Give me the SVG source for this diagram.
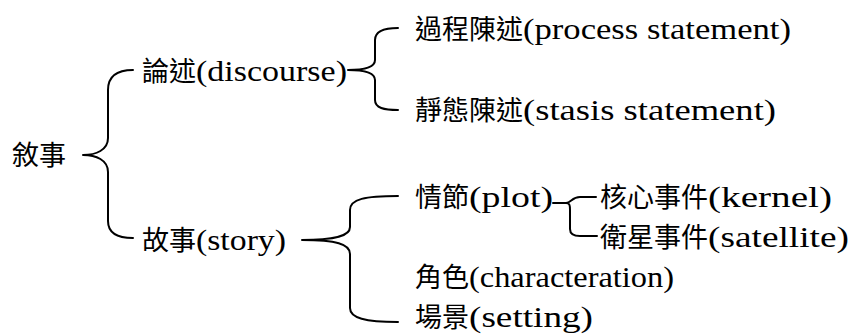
<svg xmlns="http://www.w3.org/2000/svg" width="852" height="336" viewBox="0 0 852 336">
  <style>
    text { font-family: "Noto Sans CJK TC", "Noto Sans CJK SC", sans-serif; font-size: 27px; fill: #000; }
    tspan { font-family: "Liberation Serif", "Times New Roman", serif; font-size: 29px; }
    .br { fill: none; stroke: #000; stroke-width: 2; stroke-linecap: round; stroke-linejoin: round; }
  </style>
  <rect width="852" height="336" fill="#fff"/>
  <g id="connectors">
    <path class="br" d="M133,70 C118,70 108,75 108,90 L108,138 C108,150 96,155 83,155 C96,155 108,160 108,172 L108,221 C108,233 118,238 133,238"/>
    <path class="br" d="M398,28 C384,28 375,31 375,40 L375,60 C375,67 366,70 348,70 C366,70 375,73 375,80 L375,100 C375,108 384,110 398,110"/>
    <path class="br" d="M398,196 C365,196 350,199 350,210 L350,227 C350,236 336,240 302,240 C336,240 350,244 350,254 L350,308 C350,318 365,322 398,322"/>
    <path class="br" d="M553,203 L566,203 C571,203 572,197 580,197 L596,197 M566,203 C570,203 570,206 570,210 L570,229 C570,234 574,236 580,236 L597,236"/>
  </g>
  <g id="n-narrative"><text x="12" y="165">敘事</text></g>
  <g id="n-discourse"><text x="142" y="81">論述<tspan textLength="151" lengthAdjust="spacingAndGlyphs">(discourse)</tspan></text></g>
  <g id="n-story"><text x="142" y="250">故事<tspan textLength="90" lengthAdjust="spacingAndGlyphs">(story)</tspan></text></g>
  <g id="n-process"><text x="415" y="39">過程陳述<tspan textLength="268" lengthAdjust="spacingAndGlyphs">(process statement)</tspan></text></g>
  <g id="n-stasis"><text x="415" y="120">靜態陳述<tspan textLength="253" lengthAdjust="spacingAndGlyphs">(stasis statement)</tspan></text></g>
  <g id="n-plot"><text x="415" y="207">情節<tspan textLength="84" lengthAdjust="spacingAndGlyphs">(plot)</tspan></text></g>
  <g id="n-kernel"><text x="600" y="207">核心事件<tspan textLength="124" lengthAdjust="spacingAndGlyphs">(kernel)</tspan></text></g>
  <g id="n-satellite"><text x="600" y="247">衛星事件<tspan textLength="141" lengthAdjust="spacingAndGlyphs">(satellite)</tspan></text></g>
  <g id="n-character"><text x="415" y="287">角色<tspan textLength="205" lengthAdjust="spacingAndGlyphs">(characteration)</tspan></text></g>
  <g id="n-setting"><text x="415" y="327">場景<tspan textLength="124" lengthAdjust="spacingAndGlyphs">(setting)</tspan></text></g>
</svg>
